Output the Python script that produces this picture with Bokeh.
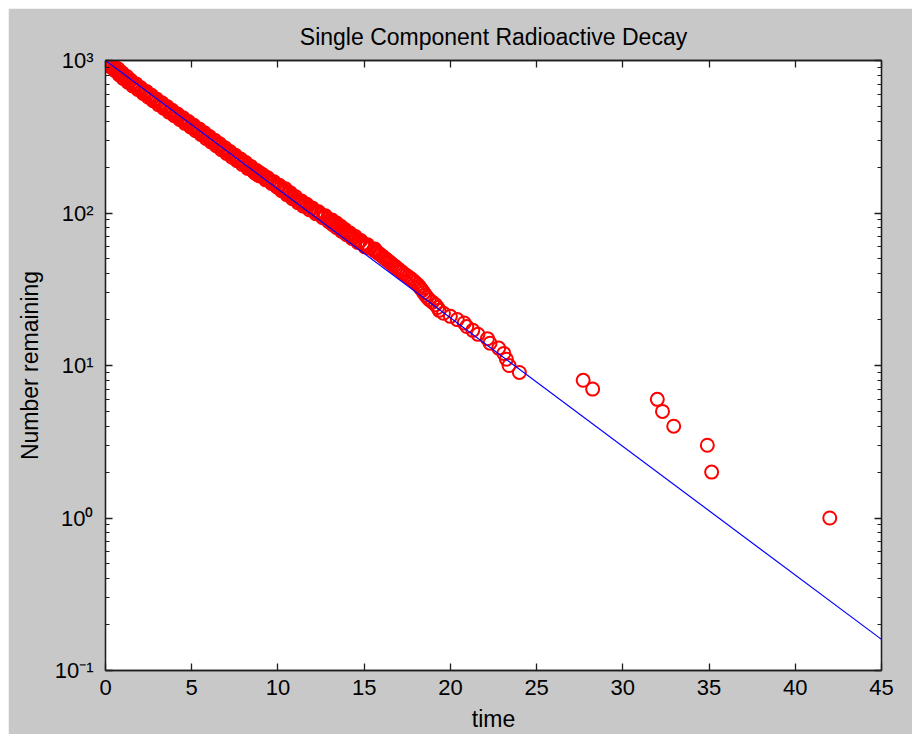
from bokeh.plotting import figure
from bokeh.models import LinearAxis, LogAxis, FixedTicker, CustomJSTickFormatter, Range1d
from bokeh.embed import file_html
from bokeh.resources import INLINE

# ---- data (time of each reading, number still remaining) ----
decay_time = [
    0.00, 0.20, 0.13, 0.05, 0.25, 0.44, 0.37, 0.30, 0.50, 0.74, 0.62, 0.55,
    0.75, 0.97, 0.87, 0.78, 1.00, 1.24, 1.12, 1.02, 1.25, 1.47, 1.38, 1.30,
    1.53, 1.78, 1.68, 1.58, 1.82, 2.05, 1.97, 1.87, 2.12, 2.37, 2.27, 2.18,
    2.42, 2.67, 2.57, 2.47, 2.71, 2.95, 2.86, 2.76, 3.01, 3.26, 3.16, 3.07,
    3.31, 3.56, 3.46, 3.37, 3.62, 3.87, 3.77, 3.68, 3.93, 4.18, 4.09, 3.99,
    4.24, 4.49, 4.40, 4.30, 4.56, 4.81, 4.71, 4.61, 4.86, 5.12, 5.03, 4.93,
    5.18, 5.43, 5.33, 5.23, 5.48, 5.74, 5.64, 5.53, 5.78, 6.03, 5.93, 5.83,
    6.09, 6.34, 6.23, 6.12, 6.37, 6.62, 6.52, 6.42, 6.67, 6.93, 6.83, 6.72,
    6.97, 7.22, 7.12, 7.02, 7.27, 7.53, 7.43, 7.33, 7.59, 7.84, 7.73, 7.63,
    7.88, 8.13, 8.03, 7.93, 8.18, 8.44, 8.34, 8.25, 8.51, 8.76, 8.65, 8.58,
    8.71, 8.89, 8.78, 8.66, 8.84, 9.03, 8.91, 8.79, 8.98, 9.16, 9.05, 8.93,
    9.12, 9.15, 9.41, 9.33, 9.29, 9.51, 9.77, 9.70, 9.63, 9.85, 10.08, 10.01,
    9.94, 10.17, 10.43, 10.32, 10.21, 10.46, 10.71, 10.61, 10.51, 10.76, 11.02, 10.92,
    10.84, 11.11, 11.36, 11.26, 11.16, 11.42, 11.67, 11.57, 11.47, 11.73, 11.99, 11.90,
    11.82, 12.09, 12.36, 12.28, 12.20, 12.47, 12.75, 12.67, 12.60, 12.88, 13.14, 13.05,
    12.93, 13.17, 13.40, 13.28, 13.16, 13.40, 13.64, 13.53, 13.41, 13.65, 13.89, 13.78,
    13.68, 13.93, 14.18, 14.08, 13.98, 14.23, 14.49, 14.39, 14.29, 14.55, 14.81, 14.72,
    14.63, 14.91, 15.19, 15.12, 15.05, 15.33, 15.62, 15.56, 15.67,
    15.79, 15.87, 15.96, 16.06, 16.15, 16.24, 16.34, 16.44, 16.54, 16.64, 16.75,
    16.85, 16.96, 17.08, 17.19, 17.30, 17.44, 17.58, 17.72, 17.84, 17.96, 18.09,
    18.19, 18.28, 18.37, 18.46, 18.55, 18.65, 18.78, 18.96,
    19.14, 19.26, 19.35, 19.60, 20.00, 20.40, 20.80, 20.95, 21.30, 21.60,
    22.15, 22.30, 22.80, 23.10, 23.25, 23.40, 24.00, 27.70, 28.25, 32.00,
    32.30, 32.95, 34.90, 35.15, 42.00,
]
number_remaining = [
    1000, 986, 972, 958, 945, 932, 919, 906, 893, 880, 868, 856,
    844, 832, 820, 808, 797, 786, 775, 764, 753, 742, 732, 722,
    712, 702, 692, 682, 673, 663, 654, 645, 636, 627, 618, 609,
    601, 592, 584, 576, 568, 560, 552, 544, 537, 529, 522, 514,
    507, 500, 493, 486, 479, 472, 466, 459, 453, 446, 440, 434,
    428, 422, 416, 410, 404, 398, 393, 387, 382, 376, 371, 366,
    361, 356, 351, 346, 341, 336, 331, 327, 322, 317, 313, 308,
    304, 300, 296, 292, 288, 284, 280, 276, 272, 268, 264, 260,
    257, 253, 250, 246, 243, 239, 236, 232, 229, 226, 223, 220,
    217, 214, 211, 208, 205, 202, 199, 196, 193, 190, 188, 187,
    186, 185, 184, 183, 182, 181, 180, 179, 178, 177, 176, 175,
    174, 173, 170, 168, 165, 163, 160, 158, 156, 154, 152, 150,
    148, 146, 144, 142, 140, 138, 136, 134, 132, 130, 128, 126,
    124, 122, 120, 119, 117, 116, 114, 113, 111, 110, 108, 107,
    105, 104, 102, 101, 99, 98, 96, 95, 93, 92, 90, 89,
    88, 87, 86, 85, 84, 83, 82, 81, 80, 79, 78, 77,
    76, 75, 74, 73, 72, 71, 70, 69, 68, 67, 66, 65,
    64, 63, 62, 61, 60, 59, 58, 57, 56,
    55, 54, 53, 52, 51, 50, 49, 48, 47, 46, 45,
    44, 43, 42, 41, 40, 39, 38, 37, 36, 35, 34,
    33, 32, 31, 30, 29, 28, 27, 26,
    25, 24, 23, 22, 21, 20, 19, 18, 17, 16,
    15, 14, 13, 12, 11, 10, 9, 8, 7, 6,
    5, 4, 3, 2, 1,
]
fit_time = [0, 45]
fit_number = [1000, 0.16]

x_ticks = [0, 5, 10, 15, 20, 25, 30, 35, 40, 45]
y_ticks = [0.1, 1, 10, 100, 1000]

FONT = "Liberation Sans"
TICK_FS = "22px"
LABEL_FS = "23px"
AX = "#1e1e1e"

y_minor = [m * 10.0 ** e for e in range(-1, 3) for m in range(2, 10)]

p = figure(width=904, height=726, margin=(8, 0, 0, 8),
           x_range=Range1d(0, 45), y_range=Range1d(0.1, 1000),
           y_axis_type="log", output_backend="svg", toolbar_location=None,
           min_border_left=97, min_border_right=31, min_border_top=52, min_border_bottom=64,
           background_fill_color="white", border_fill_color="#c8c8c8")
p.xgrid.visible = False
p.ygrid.visible = False
p.outline_line_color = AX
p.outline_line_width = 1.3

p.title.text = "Single Component Radioactive Decay"
p.title.align = "center"
p.title.text_font = FONT
p.title.text_font_size = LABEL_FS
p.title.text_font_style = "normal"
p.title.text_color = "black"
p.title.standoff = 21

sup_fmt = CustomJSTickFormatter(code="""
const e = Math.round(Math.log10(tick));
const s = {'-':'\u207b','0':'\u2070','1':'\u00b9','2':'\u00b2','3':'\u00b3'};
return '10' + String(e).split('').map(c => s[c]).join('');
""")
blank_fmt = CustomJSTickFormatter(code="return '';")

def style(ax):
    ax.axis_line_color = AX
    ax.axis_line_width = 1.3
    ax.major_tick_line_color = AX
    ax.major_tick_line_width = 1.3
    ax.major_tick_in = 7
    ax.major_tick_out = 0
    ax.minor_tick_line_color = AX
    ax.minor_tick_line_width = 1.2
    ax.minor_tick_in = 4
    ax.minor_tick_out = 0
    ax.major_label_text_font = FONT
    ax.major_label_text_font_size = TICK_FS
    ax.major_label_text_color = "black"
    ax.axis_label_text_font = FONT
    ax.axis_label_text_font_size = LABEL_FS
    ax.axis_label_text_font_style = "normal"
    ax.axis_label_text_color = "black"

xb = p.xaxis[0]
style(xb)
xb.ticker = FixedTicker(ticks=x_ticks)
xb.minor_tick_line_color = None
xb.major_label_standoff = 9
xb.axis_label = "time"
xb.axis_label_standoff = 8

yl = p.yaxis[0]
style(yl)
yl.ticker = FixedTicker(ticks=y_ticks, minor_ticks=y_minor)
yl.formatter = sup_fmt
yl.major_label_standoff = 12
yl.axis_label = "Number remaining"
yl.axis_label_standoff = 9

xt = LinearAxis(ticker=FixedTicker(ticks=x_ticks), formatter=blank_fmt)
style(xt)
xt.minor_tick_line_color = None
xt.major_label_standoff = 0
xt.major_label_text_font_size = "1px"
p.add_layout(xt, "above")

yr = LogAxis(ticker=FixedTicker(ticks=y_ticks, minor_ticks=y_minor), formatter=blank_fmt)
style(yr)
yr.major_label_standoff = 0
yr.major_label_text_font_size = "1px"
p.add_layout(yr, "right")

p.scatter(decay_time, number_remaining, marker="circle", size=13,
          fill_color=None, line_color="#ff0000", line_width=2)
p.line(fit_time, fit_number, line_color="#0000ff", line_width=1.2)

open("out.html", "w").write(file_html(p, INLINE))
